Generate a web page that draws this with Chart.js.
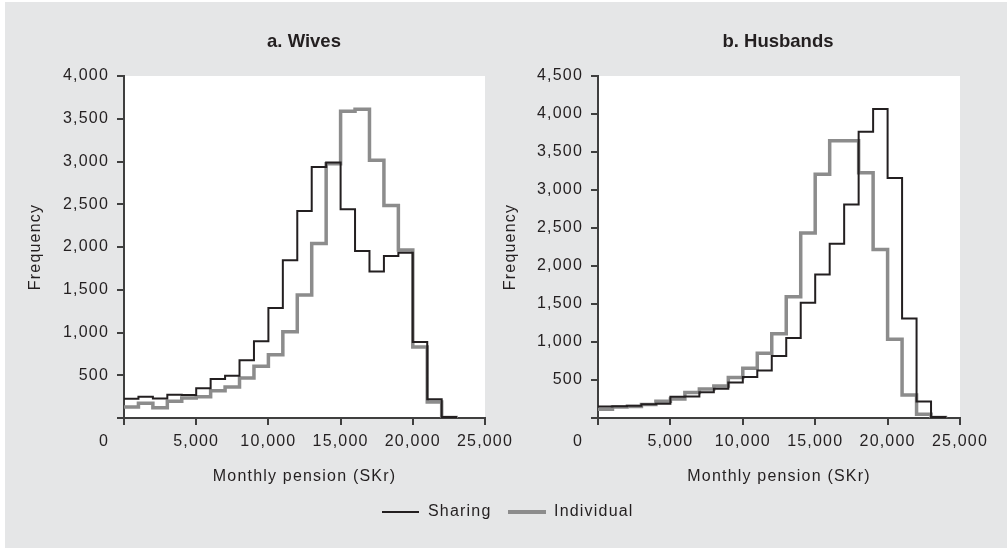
<!DOCTYPE html>
<html>
<head>
<meta charset="utf-8">
<script src="https://cdn.jsdelivr.net/npm/chart.js@4.4.0/dist/chart.umd.min.js"></script>
<style>
  html, body { margin: 0; padding: 0; background: #fff; }
  #frame { position: absolute; left: 5px; top: 2px; width: 1002px; height: 546px; background: #e5e6e7; }
  canvas { position: absolute; top: 0; }
  .title { position: absolute; top: 30px; line-height: 22px; transform: translateX(-50%); white-space: nowrap;
           font: bold 18.5px "Liberation Sans", Arial, sans-serif; color: #231f20; }
  .leg-line { position: absolute; }
  .leg-text { position: absolute; top: 502px; line-height: 20px; font: 16px "Liberation Sans", Arial, sans-serif;
              letter-spacing: 1.2px; color: #231f20; }
</style>
</head>
<body>
<div id="frame"></div>
<canvas id="wives" width="540" height="548" style="left:0px"></canvas>
<canvas id="husbands" width="517" height="548" style="left:490px"></canvas>
<div class="title" style="left:304px">a. Wives</div>
<div class="title" style="left:778px">b. Husbands</div>
<div class="leg-line" style="left:382px;top:511px;width:37px;height:2px;background:#231f20"></div>
<div class="leg-text" style="left:428px">Sharing</div>
<div class="leg-line" style="left:508px;top:510px;width:38px;height:4px;background:#8c8c8c"></div>
<div class="leg-text" style="left:554px">Individual</div>
<script>
// bin starts (SKr), bins are 1000 wide
const binStarts = [0, 1000, 2000, 3000, 4000, 5000, 6000, 7000, 8000, 9000, 10000, 11000,
                   12000, 13000, 14000, 15000, 16000, 17000, 18000, 19000, 20000, 21000, 22000, 23000];
const binWidth = 1000;

const wivesSharing = [225, 250, 227, 273, 269, 347, 456, 495, 675, 897, 1287, 1845,
                      2421, 2936, 2987, 2441, 1953, 1712, 1895, 1934, 889, 218, 12, 0];
const wivesIndividual = [129, 172, 121, 195, 234, 250, 320, 363, 468, 605, 741, 1010,
                         1439, 2040, 2975, 3587, 3610, 3014, 2484, 1965, 830, 187, 5, 0];

const husbandsSharing = [152, 155, 162, 180, 189, 281, 283, 338, 386, 466, 540, 624,
                         817, 1054, 1515, 1888, 2292, 2810, 3767, 4066, 3157, 1309, 216, 13];
const husbandsIndividual = [115, 145, 150, 176, 220, 250, 334, 382, 421, 532, 655, 852,
                            1107, 1594, 2433, 3206, 3649, 3649, 3227, 2218, 1036, 303, 49, 5];

const xTicks = [0, 5000, 10000, 15000, 20000, 25000];

const textColor = '#231f20';
const axisColor = '#3f3f3f';
const fontFamily = '"Liberation Sans", Arial, sans-serif';

Chart.defaults.font.family = fontFamily;
Chart.defaults.font.size = 16;
Chart.defaults.color = textColor;

// turn bin counts into step points, ending where the counts drop to zero
function toSteps(values) {
    let last = values.length - 1;
    while (last > 0 && values[last] === 0) last--;
    const pts = [];
    for (let i = 0; i <= last; i++) pts.push({ x: binStarts[i], y: values[i] });
    pts.push({ x: binStarts[last] + binWidth, y: 0 });
    return pts;
}

const fmt = v => v === 0 ? '' : v.toLocaleString('en-US');

// wider letter spacing to match the original lettering
const spacing = {
    id: 'spacing',
    beforeLayout(chart) { chart.ctx.letterSpacing = '1.2px'; },
    beforeDraw(chart) { chart.ctx.letterSpacing = '1.2px'; }
};

// white plot area
const plotBg = {
    id: 'plotBg',
    beforeDraw(chart) {
        const { ctx, chartArea: a } = chart;
        ctx.save();
        ctx.fillStyle = '#ffffff';
        ctx.fillRect(a.left, a.top, a.right - a.left, a.bottom - a.top);
        ctx.restore();
    }
};

// the "0" of the x axis sits in the corner, under the y labels
const zeroLabel = {
    id: 'zeroLabel',
    afterDraw(chart) {
        const { ctx, scales: { x, y } } = chart;
        ctx.save();
        ctx.letterSpacing = '1.2px';
        ctx.font = '16px ' + fontFamily;
        ctx.fillStyle = textColor;
        ctx.textAlign = 'right';
        ctx.textBaseline = 'middle';
        ctx.fillText('0', y.right - 15, x.top + 7 + 7 + 9.6);
        ctx.restore();
    }
};

function makeChart(id, sharing, individual, yMax, yWidth, yTitlePad, padRight) {
    const axisGrid = { drawOnChartArea: false, drawTicks: true, tickLength: 7, color: axisColor, lineWidth: 2 };
    return new Chart(document.getElementById(id), {
        type: 'line',
        data: {
            datasets: [
                {
                    label: 'Sharing',
                    data: toSteps(sharing),
                    borderColor: '#231f20',
                    borderWidth: 2,
                    stepped: true,
                    pointRadius: 0,
                    fill: false
                },
                {
                    label: 'Individual',
                    data: toSteps(individual),
                    borderColor: '#8c8c8c',
                    borderWidth: 3.5,
                    stepped: true,
                    pointRadius: 0,
                    fill: false
                }
            ]
        },
        options: {
            responsive: false,
            animation: false,
            layout: { padding: { left: 0, top: 76, right: padRight, bottom: 55 } },
            plugins: { legend: { display: false }, tooltip: { enabled: false } },
            scales: {
                x: {
                    type: 'linear',
                    min: 0,
                    max: 25000,
                    afterBuildTicks: s => { s.ticks = xTicks.map(v => ({ value: v })); },
                    ticks: { padding: 7, autoSkip: false, maxRotation: 0, callback: fmt },
                    grid: axisGrid,
                    border: { color: axisColor, width: 2 },
                    title: { display: true, text: 'Monthly pension (SKr)', padding: { top: 0, bottom: 6.4 } },
                    afterFit: s => { s.height = 75; }
                },
                y: {
                    min: 0,
                    max: yMax,
                    ticks: { stepSize: 500, padding: 8, callback: fmt },
                    grid: axisGrid,
                    border: { color: axisColor, width: 2 },
                    title: { display: true, text: 'Frequency', padding: { top: yTitlePad, bottom: 0 } },
                    afterFit: s => { s.width = yWidth; }
                }
            }
        },
        plugins: [spacing, plotBg, zeroLabel]
    });
}

makeChart('wives', wivesSharing, wivesIndividual, 4000, 124, 26.4, 55);
makeChart('husbands', husbandsSharing, husbandsIndividual, 4500, 108, 10.9, 47);
</script>
</body>
</html>
